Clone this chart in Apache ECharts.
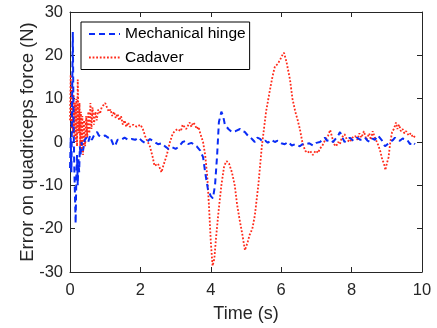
<!DOCTYPE html>
<html><head><meta charset="utf-8">
<script src="https://cdn.jsdelivr.net/npm/echarts@6/dist/echarts.min.js"></script>
<style>html,body{margin:0;padding:0;background:#fff}#c{width:437px;height:328px}</style>
</head><body><div id="c"></div>
<script>
const seriesNames = ['Mechanical hinge', 'Cadaver'];
const xTicks = [0, 2, 4, 6, 8, 10];
const yTicks = [-30, -20, -10, 0, 10, 20, 30];

const hingeT = [0.0,0.02,0.04,0.06,0.08,0.10,0.12,0.14,0.16,0.18,0.20,0.22,0.24,0.26,0.28,0.30,0.33,0.37,0.42,0.47,0.52,0.57,0.62,0.68,0.73,0.77,0.82,0.9,1.0,1.08,1.14,1.2,1.25,1.3,1.35,1.45,1.55,1.65,1.75,1.85,1.95,2.05,2.15,2.27,2.4,2.5,2.6,2.7,2.8,2.9,3.0,3.1,3.2,3.27,3.35,3.45,3.5,3.6,3.7,3.78,3.84,3.92,4.0,4.06,4.12,4.18,4.23,4.3,4.35,4.4,4.5,4.6,4.7,4.83,4.9,4.97,5.05,5.17,5.25,5.32,5.4,5.48,5.55,5.62,5.72,5.82,5.9,6.0,6.1,6.2,6.3,6.4,6.53,6.6,6.7,6.8,6.9,7.0,7.1,7.18,7.24,7.3,7.4,7.47,7.55,7.62,7.67,7.74,7.8,7.88,7.95,8.05,8.15,8.25,8.38,8.45,8.52,8.6,8.66,8.75,8.85,8.95,9.02,9.1,9.18,9.23,9.3,9.37,9.45,9.5,9.58,9.66,9.73,9.8];
const hingeV = [-6,1,-7,10,25.4,5,-5,-12,-18.8,-8,-3,-10,-4,-7,-1,-3,0,-2,0.5,1,0,1.5,0.5,1.5,1.5,2.3,1.5,1.2,1.5,1,1.2,0,-1,-0.5,0.5,0.5,1,0.5,0.7,0.5,1,0.2,-0.3,0.7,0,-0.5,-0.3,-1,-1.6,-1.2,-1.6,-1,0,0.2,-0.5,-0.2,-0.5,-1,-2,-3.5,-7,-11,-12.5,-13,-10,-3,4.6,7,6,4,3,2.3,2.5,3,2.5,2.3,1.5,0.7,0,1,0.7,0,0.3,-0.2,0.5,0,0.3,-0.3,-0.5,0,-0.8,-0.5,-1,-0.5,-0.5,-0.3,-0.8,-0.2,0,0.5,1,0.3,0.5,0,0.8,1.5,2.3,1,0,0.5,1,0.3,1,0.5,1,0.3,0,0.8,0.5,1.5,0.5,-1,-0.5,0,0.5,1,0.5,0.3,0.8,1,0.5,-0.5,0,-0.5];

const cadaverT = [0.0,0.02,0.04,0.06,0.08,0.10,0.12,0.14,0.16,0.18,0.20,0.22,0.25,0.27,0.29,0.31,0.33,0.35,0.37,0.40,0.43,0.46,0.49,0.52,0.55,0.58,0.61,0.64,0.68,0.72,0.76,0.80,0.85,0.9,0.95,1.0,1.05,1.1,1.15,1.2,1.25,1.3,1.35,1.4,1.45,1.5,1.55,1.6,1.65,1.7,1.8,1.9,2.0,2.07,2.15,2.27,2.35,2.4,2.5,2.55,2.6,2.65,2.75,2.84,2.92,2.98,3.05,3.15,3.2,3.3,3.4,3.45,3.5,3.55,3.6,3.65,3.7,3.78,3.84,3.9,3.95,4.0,4.05,4.1,4.15,4.22,4.3,4.38,4.45,4.52,4.6,4.68,4.75,4.82,4.9,4.97,5.05,5.1,5.18,5.25,5.35,5.45,5.57,5.68,5.75,5.82,5.9,5.97,6.03,6.08,6.15,6.25,6.32,6.4,6.47,6.53,6.6,6.68,6.75,6.82,6.9,6.98,7.05,7.1,7.16,7.25,7.33,7.39,7.45,7.5,7.56,7.62,7.67,7.72,7.8,7.87,7.95,8.02,8.1,8.17,8.22,8.28,8.35,8.42,8.5,8.55,8.6,8.66,8.72,8.77,8.82,8.87,8.92,8.96,9.0,9.05,9.1,9.15,9.2,9.26,9.3,9.35,9.4,9.45,9.5,9.55,9.62,9.68,9.75,9.82];
const cadaverV = [5,15.5,3,13,2,11,1,9,0,10,-1,14.4,2,9,-1,7,-2.3,6,-3,5,-1,6,1,7,2,9,3,8,4,7,5,7.5,6.5,8,8.5,9,8,7,7.5,6,7,5.5,6.5,5,6,4,5,3.5,4.5,3.5,4,3.5,4,3,1,-1,-3.5,-5.5,-5,-6,-7,-5.5,-3,0,2,2.5,3,2.5,4,3,4.5,3.5,4.5,4,3,3.5,2,0,-3,-8,-15,-23,-28.6,-27,-22,-16,-10,-5.5,-4.4,-5,-7,-10,-14.6,-18,-21.5,-25,-23,-21.5,-20,-17,-10,-1,7,12,15,17.4,18,19,20,20.6,18.5,14.4,10,7,5,3,0,-2,-2.5,-2,-3,-2,-2.5,-1.5,-1,0.5,1.4,2.8,1,-0.5,-1,0,-0.5,1,1.8,0.5,0,1,1.4,0.5,2,1,2.5,0.5,2,0.5,2.5,1,0,-1,-2.3,-4,-5,-6.5,-5,-3.5,0,2.3,3,4.5,3,4,2.5,3,2,2.5,1.5,2,1,1.5];

const hingeData = hingeT.map((t, i) => [t, hingeV[i]]);
const cadaverData = cadaverT.map((t, i) => [t, cadaverV[i]]);

const FONT = '"Liberation Sans", Arial, Helvetica, sans-serif';
const AX = '#262626';
const BLUE = '#0a2cf5';
const RED = '#ff2a1a';
const chart = echarts.init(document.getElementById('c'), null, {renderer: 'canvas'});
const baseX = {
  type: 'value', min: xTicks[0], max: xTicks[xTicks.length - 1], interval: 2,
  axisLine: {show: true, onZero: false, lineStyle: {color: AX, width: 1}},
  axisTick: {show: true, inside: true, length: 5, lineStyle: {color: AX}},
  splitLine: {show: false}
};
const baseY = {
  type: 'value', min: yTicks[0], max: yTicks[yTicks.length - 1], interval: 10,
  axisLine: {show: true, onZero: false, lineStyle: {color: AX, width: 1}},
  axisTick: {show: true, inside: true, length: 5, lineStyle: {color: AX}},
  splitLine: {show: false}
};
chart.setOption({
  animation: false,
  backgroundColor: '#fff',
  grid: {left: 70, right: 15, top: 12, bottom: 54, containLabel: false},
  legend: {
    show: true, orient: 'vertical', left: 81, top: 22,
    data: seriesNames,
    backgroundColor: '#fff', borderColor: '#000', borderWidth: 1, borderRadius: 0,
    padding: [4, 4, 4, 7], itemGap: 7.5, itemWidth: 31, itemHeight: 15,
    itemStyle: {opacity: 0},
    textStyle: {fontFamily: FONT, fontSize: 15.5, color: '#000'}
  },
  xAxis: [
    Object.assign({}, baseX, {
      position: 'bottom',
      name: 'Time (s)', nameLocation: 'middle', nameGap: 33, nameMoveOverlap: false,
      nameTextStyle: {fontFamily: FONT, fontSize: 18, color: AX},
      axisLabel: {show: true, fontFamily: FONT, fontSize: 16.5, color: AX, margin: 10}
    }),
    Object.assign({}, baseX, {position: 'top', axisLabel: {show: false}})
  ],
  yAxis: [
    Object.assign({}, baseY, {
      position: 'left',
      name: 'Error on quadriceps force (N)', nameLocation: 'middle', nameGap: 33, nameMoveOverlap: false,
      nameTextStyle: {fontFamily: FONT, fontSize: 18.5, color: AX},
      axisLabel: {show: true, fontFamily: FONT, fontSize: 16.5, color: AX, margin: 7}
    }),
    Object.assign({}, baseY, {position: 'right', axisLabel: {show: false}})
  ],
  series: [
    {
      name: seriesNames[0], type: 'line', data: hingeData, xAxisIndex: 0, yAxisIndex: 0,
      symbol: 'none', showSymbol: false, smooth: false, z: 3,
      lineStyle: {color: BLUE, width: 2, type: [6, 4]},
      itemStyle: {color: BLUE}
    },
    {
      name: seriesNames[1], type: 'line', data: cadaverData, xAxisIndex: 0, yAxisIndex: 0,
      symbol: 'none', showSymbol: false, smooth: false, z: 2,
      lineStyle: {color: RED, width: 1.8, type: [1.8, 1.8]},
      itemStyle: {color: RED}
    }
  ]
});
</script></body></html>
